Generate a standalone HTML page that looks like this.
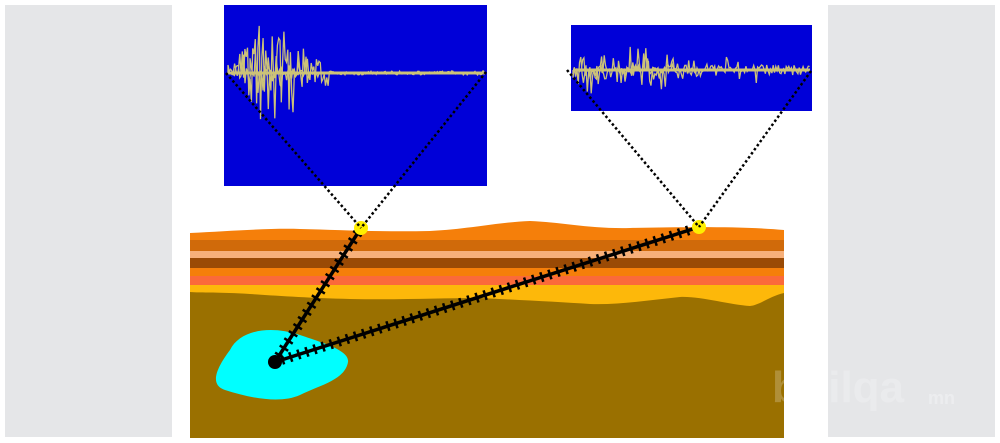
<!DOCTYPE html>
<html><head><meta charset="utf-8"><style>
html,body{margin:0;padding:0;background:#fff;width:1000px;height:443px;overflow:hidden}
svg{display:block}
</style></head><body>
<svg id="s" width="1000" height="443" viewBox="0 0 1000 443" xmlns="http://www.w3.org/2000/svg">
<rect x="5" y="5" width="167" height="432" fill="#e5e6e8"/>
<rect x="828" y="5" width="167" height="432" fill="#e5e6e8"/>
<rect x="190" y="236" width="594" height="202" fill="#9a7000"/>
<path d="M190 233 C230 231 270 228 300 229 C340 230 380 232 430 231 C470 229 500 222 530 221 C560 222 590 229 630 228 C680 227 740 226 784 230 L784 245 L190 245 Z" fill="#f57f0a"/>
<rect x="190" y="240" width="594" height="11" fill="#d06a0a"/>
<rect x="190" y="251" width="594" height="7" fill="#f7b07a"/>
<rect x="190" y="258" width="594" height="10" fill="#9a4a05"/>
<rect x="190" y="268" width="594" height="8" fill="#f57f0a"/>
<rect x="190" y="276" width="594" height="9" fill="#fb6a3a"/>
<path d="M190 285 L784 285 L784 293 C770 296 760 305 750 306 C730 305 700 296 680 297 C650 300 620 305 590 304 C560 302 520 300 480 298 C440 298 400 300 350 299 C310 298 280 296 250 294 C220 292 200 293 190 292 Z" fill="#fdb80a"/>
<path d="M230 350 C240 330 270 325 300 335 C320 342 350 350 348 362 C345 380 320 385 300 395 C280 404 250 398 225 390 C210 385 215 370 230 350 Z" fill="#00ffff"/>
<g id="rays" stroke="#000" stroke-width="3.5"></g>
<circle cx="275" cy="362" r="7" fill="#000"/>
<circle cx="361" cy="228" r="7" fill="#ffee00"/>
<circle cx="699" cy="227" r="7" fill="#ffee00"/>
<rect x="224" y="5" width="263" height="181" fill="#0000d8"/>
<rect x="571" y="25" width="241" height="86" fill="#0000d8"/>
<g id="w1" stroke="#f0e468" stroke-width="1.3" fill="none" opacity="0.85"></g>
<g id="w2" stroke="#f0e468" stroke-width="1.3" fill="none" opacity="0.85"></g>
<g stroke="#000" stroke-width="2.5" stroke-dasharray="2.5 2.5" fill="none">
<line x1="226" y1="73" x2="361" y2="228"/>
<line x1="486" y1="72" x2="361" y2="228"/>
<line x1="567" y1="70" x2="699" y2="227"/>
<line x1="811" y1="71" x2="699" y2="227"/>
</g>
<text x="772" y="402" font-family="Liberation Sans, sans-serif" font-weight="bold" font-size="44" fill="#ffffff" opacity="0.22">bırilqa</text>
<text x="928" y="404" font-family="Liberation Sans, sans-serif" font-weight="bold" font-size="18" fill="#ffffff" opacity="0.3">mn</text>
</svg>
<script>
var NS="http://www.w3.org/2000/svg";
function ray(x1,y1,x2,y2){var g=document.getElementById('rays');
var l=document.createElementNS(NS,'line');l.setAttribute('x1',x1);l.setAttribute('y1',y1);l.setAttribute('x2',x2);l.setAttribute('y2',y2);g.appendChild(l);
var dx=x2-x1,dy=y2-y1,L=Math.hypot(dx,dy),ux=dx/L,uy=dy/L,px=-uy,py=ux;
for(var d=8;d<L-6;d+=8.5){var cx=x1+ux*d,cy=y1+uy*d;var t=document.createElementNS(NS,'line');
t.setAttribute('x1',cx-px*5);t.setAttribute('y1',cy-py*5);t.setAttribute('x2',cx+px*5);t.setAttribute('y2',cy+py*5);t.setAttribute('stroke-width','2.5');g.appendChild(t);}}
ray(275,362,361,228);ray(275,362,699,227);
var seed=3;function r(){seed=(seed*16807)%2147483647;return seed/2147483647;}
function wave(id,x0,x1,y,ampf){var g=document.getElementById(id);var d="M"+x0+" "+y;
for(var x=x0;x<=x1;x+=1.3){var a=ampf(x);d+=" L"+x.toFixed(1)+" "+(y+(r()*2-1)*a).toFixed(1);}
var p=document.createElementNS(NS,'path');p.setAttribute('d',d);g.appendChild(p);
var p2=document.createElementNS(NS,'path');p2.setAttribute('d',"M"+x0+" "+y+" L"+x1+" "+y);p2.setAttribute('stroke-width','3');g.appendChild(p2);}
wave('w1',228,485,73,function(x){if(x<240)return 8;if(x<310)return 25+45*Math.sin((x-240)/70*Math.PI)*r();if(x<330)return 14;return 2;});
wave('w1',232,320,73,function(x){return 40*r()*r();});
wave('w1',250,300,73,function(x){return 60*r()*r()*r();});
wave('w2',573,810,70,function(x){if(x<680)return 28*r();if(x<760)return 16*r();return 5;});
wave('w2',580,700,70,function(x){return 25*r()*r();});
</script>
</body></html>
